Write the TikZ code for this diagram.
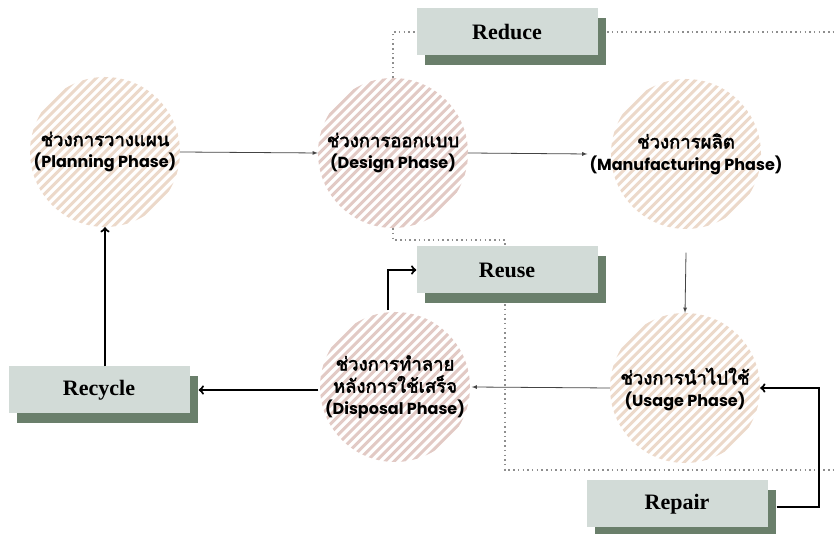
\documentclass[tikz,border=0pt]{standalone}
\usepackage{fontspec}
\setmainfont{Liberation Serif}
\newfontfamily\thaifont[Script=Thai, FakeBold=2.5]{Loma}
\newfontfamily\engfont{Poppins}
\usepackage{xcolor}
\usepackage{tikz}
\usetikzlibrary{arrows, shadows, backgrounds}

\definecolor{peach}{HTML}{ECD9CA}
\definecolor{rose}{HTML}{E2CAC5}
\definecolor{sage}{HTML}{D2DBD7}
\definecolor{moss}{HTML}{6A7F6B}
\definecolor{dotgray}{HTML}{8E8E8E}
\definecolor{flowgray}{HTML}{444444}

\newcommand{\thaitxt}{\thaifont\fontsize{18.5}{24}\selectfont}
\newcommand{\engtxt}{\engfont\fontsize{16}{24}\selectfont\bfseries}

% striped disc behind a phase node
\newcommand{\hatch}[2]{%
  \begin{scope}[on background layer]
  \begin{scope}
    \clip (#1.center) circle (75pt);
    \foreach \k in {-13,...,13}
      \draw[#2, line width=3pt] ([shift={(\k*9.2-110,-110)}]#1.center) -- ++(220,220);
  \end{scope}
  \end{scope}}

\begin{document}
\begin{tikzpicture}[x=1pt, y=1pt,
phase/.style = {circle, minimum size=150pt, inner sep=0pt, align=center},
strategy/.style = {rectangle, fill=sage, minimum width=181pt, minimum height=47pt,
  font=\fontsize{22}{22}\selectfont\bfseries,
  drop shadow={shadow xshift=8pt, shadow yshift=-10pt, fill=moss, opacity=1}},
flow/.style = {-latex, flowgray, line width=0.8pt},
loop/.style = {->, black, line width=2.2pt},
guide/.style = {dotgray, line width=1.5pt, dash pattern=on 1.5pt off 3.2pt}
]

\useasboundingbox (0,0) rectangle (835,534);

\node (plan) at (105,382) [phase] {{\thaitxt ช่วงการวางแผน}\\[6pt]{\engtxt (Planning Phase)}};
\node (design) at (393,381) [phase] {{\thaitxt ช่วงการออกแบบ}\\[6pt]{\engtxt (Design Phase)}};
\node (manu) at (686,380) [phase] {{\thaitxt ช่วงการผลิต}\\[6pt]{\engtxt (Manufacturing Phase)}};
\node (usage) at (685,146) [phase] {{\thaitxt ช่วงการนำไปใช้}\\[6pt]{\engtxt (Usage Phase)}\\[-10pt]};
\node (disposal) at (395,147) [phase] {{\thaitxt ช่วงการทำลาย}\\[4pt]{\thaitxt หลังการใช้เสร็จ}\\[6pt]{\engtxt (Disposal Phase)}};

\hatch{plan}{peach}
\hatch{design}{rose}
\hatch{manu}{peach}
\hatch{usage}{peach}
\hatch{disposal}{rose}

\node (reduce) at (507,502) [strategy] {Reduce};
\node (reuse) at (507,264) [strategy] {Reuse};
\node (recycle) at (99,144) [strategy] {Recycle};
\node (repair) at (677,30) [strategy] {Repair};

\begin{scope}[on background layer]
\draw[guide] (design.north) |- (reduce.west);
\draw[guide] (reduce.east) -- (835,502);
\draw[guide] (design.south) |- (505,294) |- (835,64);
\end{scope}

\draw[flow] (plan.east) -- (design.west);
\draw[flow] (design.east) -- (manu.west);
\draw[flow] (manu.south) -- (usage.north);
\draw[flow] (usage.west) -- (disposal.east);

\draw[loop] ([xshift=-7pt]disposal.north) |- (reuse.west);
\draw[loop] (disposal.west |- recycle.east) -- ([xshift=9pt]recycle.east);
\draw[loop] (plan.south |- recycle.north) -- (plan.south);
\draw[loop] ([xshift=9pt,yshift=-3pt]repair.east) -- ++(42,0) |- (usage.east);
\end{tikzpicture}
\end{document}
